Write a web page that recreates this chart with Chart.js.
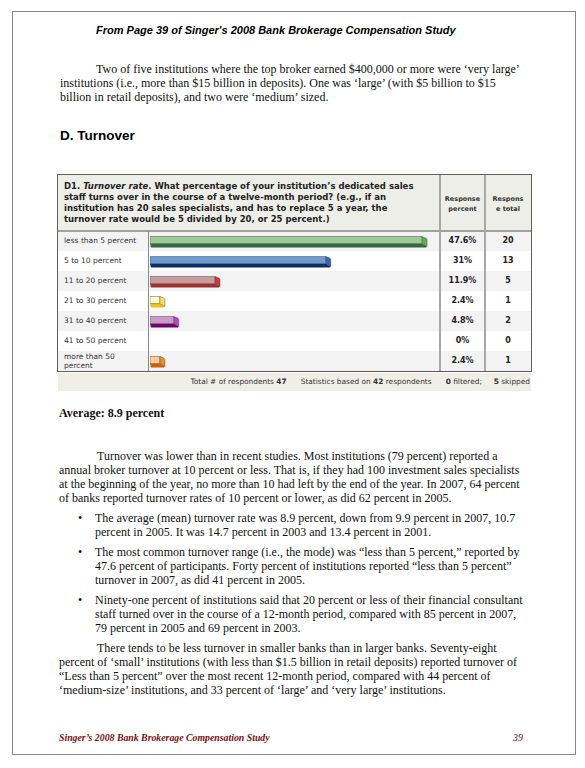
<!DOCTYPE html>
<html>
<head>
<meta charset="utf-8">
<script src="https://cdn.jsdelivr.net/npm/chart.js@4.4.1/dist/chart.umd.min.js"></script>
<style>
  body { margin: 0; background: #fff; width: 585px; height: 768px; overflow: hidden; position: relative; }
  .abs { position: absolute; white-space: nowrap; }
  .serif { font-family: "Liberation Serif", "Times New Roman", serif; font-size: 12px; line-height: 14px; color: #111; }
  .tbl { font-family: "DejaVu Sans", Verdana, sans-serif; color: #333; }
  .frame { position: absolute; left: 12px; top: 11px; width: 562px; height: 742px; border: 1px solid #888; }
</style>
</head>
<body>
<div class="frame"></div>

<div class="abs" style="left:96px;top:23px;font:italic bold 11px 'Liberation Sans',Arial,sans-serif;line-height:14px;">From Page 39 of Singer's 2008 Bank Brokerage Compensation Study</div>

<div class="abs serif" style="left:60px;top:61.5px;">
<span style="padding-left:36px"></span>Two of five institutions where the top broker earned $400,000 or more were ‘very large’<br>
institutions (i.e., more than $15 billion in deposits). One was ‘large’ (with $5 billion to $15<br>
billion in retail deposits), and two were ‘medium’ sized.
</div>

<div class="abs" style="left:60px;top:128px;font:bold 13.5px 'Liberation Sans',Arial,sans-serif;line-height:16px;">D. Turnover</div>

<!-- survey table -->
<div id="table"></div>

<div class="abs serif" style="left:59px;top:406px;font-weight:bold;">Average: 8.9 percent</div>

<div class="abs serif" style="left:59px;top:449px;">
<span style="padding-left:38px"></span>Turnover was lower than in recent studies. Most institutions (79 percent) reported a<br>
annual broker turnover at 10 percent or less. That is, if they had 100 investment sales specialists<br>
at the beginning of the year, no more than 10 had left by the end of the year. In 2007, 64 percent<br>
of banks reported turnover rates of 10 percent or lower, as did 62 percent in 2005.
</div>

<div class="abs serif" style="left:78px;top:511px;">•</div>
<div class="abs serif" style="left:95px;top:511px;">
The average (mean) turnover rate was 8.9 percent, down from 9.9 percent in 2007, 10.7<br>
percent in 2005. It was 14.7 percent in 2003 and 13.4 percent in 2001.
</div>
<div class="abs serif" style="left:78px;top:545.3px;">•</div>
<div class="abs serif" style="left:95px;top:545.3px;">
The most common turnover range (i.e., the mode) was “less than 5 percent,” reported by<br>
47.6 percent of participants. Forty percent of institutions reported “less than 5 percent”<br>
turnover in 2007, as did 41 percent in 2005.
</div>
<div class="abs serif" style="left:78px;top:593px;">•</div>
<div class="abs serif" style="left:95px;top:593px;">
Ninety-one percent of institutions said that 20 percent or less of their financial consultant<br>
staff turned over in the course of a 12-month period, compared with 85 percent in 2007,<br>
79 percent in 2005 and 69 percent in 2003.
</div>

<div class="abs serif" style="left:59px;top:640.7px;">
<span style="padding-left:38px"></span>There tends to be less turnover in smaller banks than in larger banks. Seventy-eight<br>
percent of ‘small’ institutions (with less than $1.5 billion in retail deposits) reported turnover of<br>
“Less than 5 percent” over the most recent 12-month period, compared with 44 percent of<br>
‘medium-size’ institutions, and 33 percent of ‘large’ and ‘very large’ institutions.
</div>

<div class="abs" style="left:59px;top:731px;font:italic bold 9.8px 'Liberation Serif',serif;line-height:14px;color:#7b0f0f;">Singer’s 2008 Bank Brokerage Compensation Study</div>
<div class="abs" style="left:513px;top:731px;font:italic 9.8px 'Liberation Serif',serif;line-height:14px;color:#7b0f0f;">39</div>

<script>
// survey answers
var categories = ["less than 5 percent", "5 to 10 percent", "11 to 20 percent", "21 to 30 percent",
                  "31 to 40 percent", "41 to 50 percent", "more than 50 percent"]
var responsePercent = [47.6, 31, 11.9, 2.4, 4.8, 0, 2.4]
var responseTotal = [20, 13, 5, 1, 2, 0, 1]
var totalRespondents = 47
var basedOn = 42
var filtered = 0
var skipped = 5

// bar colours: front face, bottom face, end cap
var faceColors = ["#9dcb95", "#6c9bd2", "#cc9a9a", "#ffffc2", "#cc99cc", "#cccccc", "#ffcc99"]
var darkColors = ["#36683a", "#0c2f66", "#9e3030", "#efbf1c", "#680868", "#888888", "#cf6304"]
var capColors  = ["#62ad52", "#2f64b6", "#d43838", "#f4df5c", "#c23fc2", "#aaaaaa", "#f08b30"]

var T = { left: 58, top: 175, right: 531, head: 231, rowH: 20, labelCol: 149, pctCol: 440, totCol: 485 }
var rowsBottom = T.head + categories.length * T.rowH

function box(css, html) {
    var d = document.createElement("div")
    d.className = "abs tbl"
    d.style.cssText = css
    if (html !== undefined) d.innerHTML = html
    document.getElementById("table").appendChild(d)
    return d
}

// header
box("left:" + T.left + "px;top:" + T.top + "px;width:" + (T.right - T.left) + "px;height:" + (T.head - T.top) + "px;background:#eeeee9;")
box("left:64px;top:181px;font-weight:bold;font-size:8.5px;line-height:11px;color:#222;",
    "D1. <i>Turnover rate</i>. What percentage of your institution’s dedicated sales<br>" +
    "staff turns over in the course of a twelve-month period? (e.g., if an<br>" +
    "institution has 20 sales specialists, and has to replace 5 a year, the<br>" +
    "turnover rate would be 5 divided by 20, or 25 percent.)")
box("left:" + T.pctCol + "px;top:195px;width:" + (T.totCol - T.pctCol) + "px;text-align:center;font-weight:bold;font-size:6.5px;line-height:9.5px;color:#333;",
    "Response<br>percent")
box("left:" + T.totCol + "px;top:195px;width:" + (T.right - T.totCol) + "px;text-align:center;font-weight:bold;font-size:6.5px;line-height:9.5px;color:#333;",
    "Respons<br>e total")

// rows
categories.forEach(function (label, i) {
    var y = T.head + i * T.rowH
    var bg = (i % 2 == 0) ? "#f3f3f3" : "#ffffff"
    box("left:" + T.left + "px;top:" + y + "px;width:" + (T.right - T.left) + "px;height:" + T.rowH + "px;background:" + bg + ";")
    var words = label
    if (label == "more than 50 percent") words = "more than 50<br>percent"
    var lines = words.indexOf("<br>") > 0 ? 2 : 1
    box("left:64px;top:" + (y + T.rowH / 2 - lines * 4.75) + "px;font-size:7.5px;line-height:9.5px;color:#333;", words)
    box("left:" + T.pctCol + "px;top:" + (y + 4) + "px;width:" + (T.totCol - T.pctCol) + "px;text-align:center;font-weight:bold;font-size:8px;line-height:12px;color:#222;",
        responsePercent[i] + "%")
    box("left:" + T.totCol + "px;top:" + (y + 4) + "px;width:" + (T.right - T.totCol) + "px;text-align:center;font-weight:bold;font-size:8px;line-height:12px;color:#222;",
        String(responseTotal[i]))
})

// lines of the table
box("left:" + (T.left - 1) + "px;top:" + (T.top - 1) + "px;width:" + (T.right - T.left) + "px;height:" + (rowsBottom - T.top) + "px;border:1.5px solid #5e5e5e;")
box("left:" + T.left + "px;top:" + (T.head - 1) + "px;width:" + (T.right - T.left) + "px;height:0;border-top:2px solid #a0a0a0;")
box("left:" + (T.labelCol - 1) + "px;top:" + T.head + "px;width:0;height:" + (rowsBottom - T.head) + "px;border-left:1.5px solid #8a8a8a;")
box("left:" + (T.pctCol - 1) + "px;top:" + T.top + "px;width:0;height:" + (rowsBottom - T.top) + "px;border-left:2px solid #a8a8a8;")
box("left:" + (T.totCol - 1) + "px;top:" + T.top + "px;width:0;height:" + (rowsBottom - T.top) + "px;border-left:2px solid #a8a8a8;")

// footer strip
box("left:" + T.left + "px;top:" + (rowsBottom + 1.5) + "px;width:" + (T.right - T.left) + "px;height:18px;background:#efefe8;")
box("left:" + T.left + "px;top:" + (rowsBottom + 5.5) + "px;width:" + (T.right - T.left - 1) + "px;text-align:right;font-size:7.4px;line-height:10px;color:#333;",
    "Total # of respondents <b>" + totalRespondents + "</b>&nbsp;&nbsp;&nbsp;&nbsp;&nbsp; Statistics based on <b>" + basedOn +
    "</b> respondents&nbsp;&nbsp;&nbsp;&nbsp;&nbsp; <b>" + filtered + "</b> filtered;&nbsp;&nbsp;&nbsp;&nbsp; <b>" + skipped + "</b> skipped")

// canvas for the bars, sitting in the bar column
var cv = document.createElement("canvas")
cv.id = "chart1"
cv.width = T.pctCol - T.labelCol - 1
cv.height = rowsBottom - T.head
cv.style.cssText = "position:absolute;left:" + (T.labelCol + 1) + "px;top:" + T.head + "px;width:" + cv.width + "px;height:" + cv.height + "px;"
document.getElementById("table").appendChild(cv)

// draws each bar as a little 3d box
var bar3d = {
    id: "bar3d",
    afterDatasetsDraw: function (chart) {
        var ctx = chart.ctx
        var meta = chart.getDatasetMeta(0)
        meta.data.forEach(function (bar, i) {
            if (responsePercent[i] <= 0) return
            var p = bar.getProps(["x", "y", "base", "height"], true)
            var left = p.base, right = p.x - 4, cap = 5
            var top = Math.round(p.y - p.height / 2) + 0.5
            var bottom = top + p.height
            var split = top + Math.round(p.height * 0.62)
            ctx.save()
            // bottom face
            ctx.fillStyle = darkColors[i]
            ctx.beginPath()
            ctx.moveTo(left, split); ctx.lineTo(right, split); ctx.lineTo(right + cap, bottom - 1)
            ctx.lineTo(right + cap - 1, bottom); ctx.lineTo(left + 1, bottom); ctx.closePath()
            ctx.fill()
            // front face
            ctx.fillStyle = faceColors[i]
            ctx.fillRect(left, top, right - left, split - top)
            ctx.strokeStyle = "rgba(60,60,60,0.55)"
            ctx.lineWidth = 0.8
            ctx.strokeRect(left, top, right - left, split - top)
            // end cap
            ctx.fillStyle = capColors[i]
            ctx.beginPath()
            ctx.moveTo(right, top); ctx.lineTo(right + cap - 1, top + 1.5); ctx.lineTo(right + cap, top + 3)
            ctx.lineTo(right + cap, bottom - 1); ctx.lineTo(right, split); ctx.closePath()
            ctx.fill()
            ctx.strokeStyle = "rgba(60,60,60,0.45)"
            ctx.stroke()
            ctx.restore()
        })
    }
}

new Chart(cv.getContext("2d"), {
    type: "bar",
    data: {
        labels: categories,
        datasets: [{
            data: responsePercent,
            backgroundColor: "rgba(0,0,0,0)",
            borderWidth: 0,
            barPercentage: 0.55,
            categoryPercentage: 1
        }]
    },
    options: {
        indexAxis: "y",
        responsive: false,
        animation: false,
        layout: { padding: 0 },
        scales: {
            x: { display: false, min: 0, max: 50 },
            y: { display: false }
        },
        plugins: {
            legend: { display: false },
            tooltip: { enabled: false }
        }
    },
    plugins: [bar3d]
})
</script>
</body>
</html>
